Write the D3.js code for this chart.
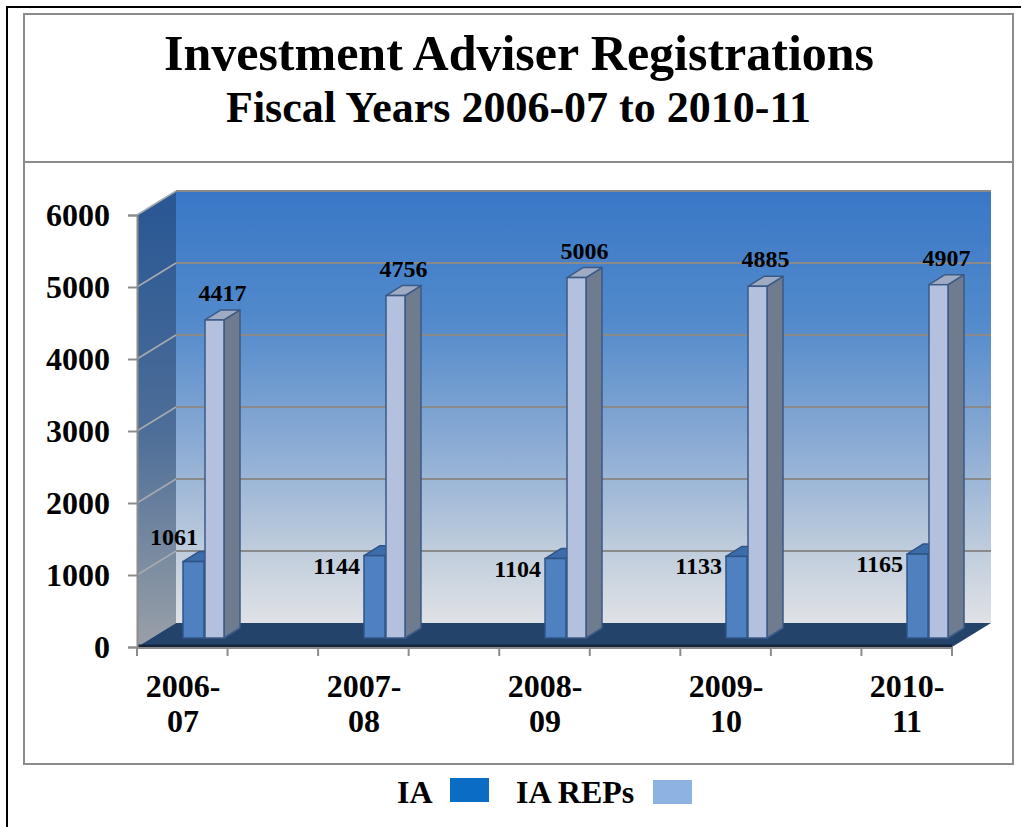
<!DOCTYPE html>
<html>
<head>
<meta charset="utf-8">
<script src="https://cdn.jsdelivr.net/npm/d3@7"></script>
<style>
  html, body { margin: 0; padding: 0; background: #ffffff; }
  svg { display: block; }
  text { font-family: "Liberation Serif", "Times New Roman", serif; font-weight: bold; fill: #000; }
</style>
</head>
<body>
<script>
// ---- data ----
const categories = ["2006-07", "2007-08", "2008-09", "2009-10", "2010-11"];
const iaValues = [1061, 1144, 1104, 1133, 1165];
const repValues = [4417, 4756, 5006, 4885, 4907];
const yTickValues = [0, 1000, 2000, 3000, 4000, 5000, 6000];
const seriesNames = ["IA", "IA REPs"];
const titleLines = ["Investment Adviser Registrations", "Fiscal Years 2006-07 to 2010-11"];

// ---- layout ----
const W = 1021, H = 827;
const svg = d3.select("body").append("svg").attr("width", W).attr("height", H);

const front = { x0: 137, x1: 952 };
const depth = { dx: 39, dy: -24 };
const y = d3.scaleLinear().domain([0, 6000]).range([647, 215]);
const xCat = d3.scalePoint().domain(categories).range([183, 907]);
const xTick = d3.scaleLinear().domain([0, 9]).range([front.x0, front.x1]);
const barShift = -9;           // bars sit a little behind the front plane
const barD = { dx: 16, dy: -10 };
const wIA = 21, wRep = 19, gap = 22;

const defs = svg.append("defs");
const gWall = defs.append("linearGradient").attr("id", "wall")
  .attr("gradientUnits", "userSpaceOnUse").attr("x1", 0).attr("x2", 0)
  .attr("y1", y(6000) + depth.dy).attr("y2", y(0) + depth.dy);
[[0, "#3977c6"], [0.3, "#528acb"], [0.6, "#8eadd4"], [0.85, "#c3cfdd"], [1, "#dfe2e6"]]
  .forEach(([o, c]) => gWall.append("stop").attr("offset", o).attr("stop-color", c));
const gSide = defs.append("linearGradient").attr("id", "side")
  .attr("gradientUnits", "userSpaceOnUse").attr("x1", 0).attr("x2", 0)
  .attr("y1", y(6000)).attr("y2", y(0));
[[0, "#2b5894"], [0.5, "#4d6e98"], [1, "#9aa0a8"]]
  .forEach(([o, c]) => gSide.append("stop").attr("offset", o).attr("stop-color", c));

// outer frames
svg.append("path").attr("d", `M7,${H} L7,7 L${W},7`).attr("fill", "none").attr("stroke", "#000").attr("stroke-width", 2);
svg.append("rect").attr("x", 24).attr("y", 14).attr("width", 989).attr("height", 750)
  .attr("fill", "#fff").attr("stroke", "#8c8c8c").attr("stroke-width", 2);
svg.append("line").attr("x1", 24).attr("x2", 1013).attr("y1", 162).attr("y2", 162)
  .attr("stroke", "#8c8c8c").attr("stroke-width", 2);

// titles
svg.append("text").attr("x", 519).attr("y", 70).attr("text-anchor", "middle")
  .style("font-size", "50px").text(titleLines[0]);
svg.append("text").attr("x", 518.5).attr("y", 122).attr("text-anchor", "middle")
  .style("font-size", "44px").text(titleLines[1]);

// ---- 3D walls ----
const pt = (x, yy) => `${x},${yy}`;
// back wall
svg.append("rect")
  .attr("x", front.x0 + depth.dx).attr("y", y(6000) + depth.dy)
  .attr("width", front.x1 - front.x0).attr("height", y(0) - y(6000))
  .attr("fill", "url(#wall)");
svg.append("line")
  .attr("x1", front.x0 + depth.dx).attr("x2", front.x1 + depth.dx)
  .attr("y1", y(6000) + depth.dy).attr("y2", y(6000) + depth.dy)
  .attr("stroke", "#9a9a9a").attr("stroke-width", 2);
// side wall
svg.append("polygon")
  .attr("points", [pt(front.x0, y(6000)), pt(front.x0 + depth.dx, y(6000) + depth.dy),
                   pt(front.x0 + depth.dx, y(0) + depth.dy), pt(front.x0, y(0))].join(" "))
  .attr("fill", "url(#side)");
// gridlines back wall
svg.append("g").selectAll("line").data(yTickValues.filter(v => v > 0)).join("line")
  .attr("x1", front.x0 + depth.dx).attr("x2", front.x1 + depth.dx)
  .attr("y1", d => y(d) + depth.dy).attr("y2", d => y(d) + depth.dy)
  .attr("stroke", "#8a8a8a").attr("stroke-width", 2);
// gridlines side wall
svg.append("g").selectAll("line").data(yTickValues.filter(v => v > 0)).join("line")
  .attr("x1", front.x0).attr("x2", front.x0 + depth.dx)
  .attr("y1", d => y(d)).attr("y2", d => y(d) + depth.dy)
  .attr("stroke", "#a7aab0").attr("stroke-width", 1.5);
// floor
svg.append("polygon")
  .attr("points", [pt(front.x0, y(0)), pt(front.x0 + depth.dx, y(0) + depth.dy),
                   pt(front.x1 + depth.dx, y(0) + depth.dy), pt(front.x1, y(0))].join(" "))
  .attr("fill", "#23436b");
svg.append("line").attr("x1", front.x0).attr("x2", front.x1).attr("y1", y(0) - 1).attr("y2", y(0) - 1)
  .attr("stroke", "#13243b").attr("stroke-width", 3);

// ---- y axis ----
const yAxis = d3.axisLeft(y).tickValues(yTickValues).tickSize(9).tickPadding(18).tickFormat(d3.format("d"));
const yg = svg.append("g").attr("transform", `translate(${front.x0},0)`).call(yAxis);
yg.select(".domain").attr("stroke", "#8c8c8c").attr("stroke-width", 2);
yg.selectAll(".tick line").attr("stroke", "#8c8c8c").attr("stroke-width", 2);
yg.selectAll(".tick text").attr("dy", "0.34em")
  .style("font-family", '"Liberation Serif", "Times New Roman", serif')
  .style("font-weight", "bold").style("font-size", "32px").attr("fill", "#000");

// ---- x axis ----
svg.append("line").attr("x1", front.x0).attr("x2", front.x1).attr("y1", y(0) + 1).attr("y2", y(0) + 1)
  .attr("stroke", "#8c8c8c").attr("stroke-width", 2);
svg.append("g").selectAll("line").data(d3.range(10)).join("line")
  .attr("x1", d => xTick(d)).attr("x2", d => xTick(d))
  .attr("y1", y(0)).attr("y2", y(0) + 9)
  .attr("stroke", "#8c8c8c").attr("stroke-width", 2);
const xl = svg.append("g").selectAll("text").data(categories).join("text")
  .attr("x", d => xCat(d)).attr("y", 697).attr("text-anchor", "middle")
  .style("font-size", "32px");
xl.append("tspan").attr("x", d => xCat(d)).text(d => d.split("-")[0] + "-");
xl.append("tspan").attr("x", d => xCat(d)).attr("dy", 35).text(d => d.split("-")[1]);

// ---- bars ----
function bar3d(g, x, w, v, c) {
  const yb = y(0) + barShift, yt = y(v) + barShift;
  g.append("polygon")
    .attr("points", [pt(x + w, yt), pt(x + w + barD.dx, yt + barD.dy),
                     pt(x + w + barD.dx, yb + barD.dy), pt(x + w, yb)].join(" "))
    .attr("fill", c.side).attr("stroke", c.stroke).attr("stroke-width", 1.5).attr("stroke-linejoin", "round");
  g.append("polygon")
    .attr("points", [pt(x, yt), pt(x + barD.dx, yt + barD.dy),
                     pt(x + w + barD.dx, yt + barD.dy), pt(x + w, yt)].join(" "))
    .attr("fill", c.top).attr("stroke", c.stroke).attr("stroke-width", 1.5).attr("stroke-linejoin", "round");
  g.append("rect").attr("x", x).attr("y", yt).attr("width", w).attr("height", yb - yt)
    .attr("fill", c.front).attr("stroke", c.stroke).attr("stroke-width", 1.5);
}
const iaCol = { front: "#4f80c0", side: "#3a64a0", top: "#3d6cab", stroke: "#2e5587" };
const repCol = { front: "#b3c1df", side: "#6f7c90", top: "#9eabc2", stroke: "#3b5a86" };

const barsG = svg.append("g");
categories.forEach((c, i) => {
  const x0 = xCat(c);
  bar3d(barsG, x0, wIA, iaValues[i], iaCol);
  bar3d(barsG, x0 + gap, wRep, repValues[i], repCol);
});

// value labels
svg.append("g").selectAll("text").data(categories).join("text")
  .attr("x", d => xCat(d) + gap + wRep / 2 + 8)
  .attr("y", (d, i) => y(repValues[i]) + barShift + barD.dy - 9)
  .attr("text-anchor", "middle").style("font-size", "24px")
  .text((d, i) => repValues[i]);
svg.append("g").selectAll("text").data(categories).join("text")
  .attr("x", (d, i) => i === 0 ? xCat(d) + 15 : xCat(d) - 4)
  .attr("y", (d, i) => i === 0 ? y(iaValues[i]) + barShift - 17 : y(iaValues[i]) + barShift + 18)
  .attr("text-anchor", "end").style("font-size", "24px")
  .text((d, i) => iaValues[i]);

// ---- legend ----
const legend = svg.append("g");
legend.append("text").attr("x", 397).attr("y", 803).style("font-size", "32px").text(seriesNames[0]);
legend.append("rect").attr("x", 450).attr("y", 778).attr("width", 39).attr("height", 24).attr("fill", "#0a6cc4");
legend.append("text").attr("x", 516).attr("y", 803).style("font-size", "32px").text(seriesNames[1]);
legend.append("rect").attr("x", 653).attr("y", 780).attr("width", 39).attr("height", 24).attr("fill", "#8db3e2");
</script>
</body>
</html>
